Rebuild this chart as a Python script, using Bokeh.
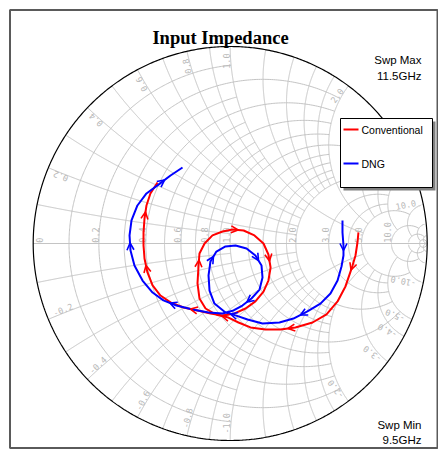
import numpy as np
from bokeh.plotting import figure
from bokeh.models import ColumnDataSource, Arrow, OpenHead, Range1d
from bokeh.embed import file_html
from bokeh.resources import INLINE
from bokeh.core.properties import value

# ---------------- data: reflection coefficient traces (Re, Im) ----------------
conv_re = [0.651, 0.646, 0.636, 0.621, 0.606, 0.585, 0.545, 0.489, 0.418, 0.331,
           0.255, 0.179, 0.103, 0.042, -0.009, -0.075, -0.125, -0.156, -0.166, -0.161,
           -0.156, -0.130, -0.090, -0.039, 0.012, 0.068, 0.123, 0.169, 0.194, 0.205,
           0.194, 0.169, 0.128, 0.078, 0.022, -0.039, -0.100, -0.166, -0.237, -0.303,
           -0.354, -0.394, -0.420, -0.435, -0.440, -0.440, -0.435, -0.425, -0.405, -0.369]
conv_im = [0.056, 0.005, -0.061, -0.112, -0.157, -0.218, -0.294, -0.360, -0.401, -0.426,
           -0.437, -0.437, -0.426, -0.401, -0.376, -0.360, -0.330, -0.279, -0.203, -0.117,
           -0.051, 0.000, 0.041, 0.061, 0.071, 0.066, 0.041, 0.000, -0.056, -0.122,
           -0.188, -0.244, -0.294, -0.330, -0.355, -0.365, -0.355, -0.340, -0.325, -0.299,
           -0.264, -0.213, -0.147, -0.076, -0.010, 0.056, 0.127, 0.193, 0.254, 0.310]
dng_re = [0.570, 0.570, 0.575, 0.575, 0.565, 0.545, 0.509, 0.458, 0.392, 0.321,
          0.250, 0.164, 0.088, 0.027, -0.024, -0.080, -0.105, -0.110, -0.100, -0.070,
          -0.024, 0.027, 0.083, 0.128, 0.159, 0.164, 0.149, 0.108, 0.062, 0.017,
          -0.039, -0.110, -0.191, -0.273, -0.339, -0.394, -0.445, -0.486, -0.506, -0.511,
          -0.501, -0.471, -0.425, -0.364, -0.303, -0.242]
dng_im = [0.117, 0.056, -0.010, -0.061, -0.117, -0.188, -0.254, -0.305, -0.345, -0.381,
          -0.401, -0.406, -0.386, -0.365, -0.350, -0.305, -0.239, -0.162, -0.091, -0.041,
          -0.015, -0.010, -0.025, -0.061, -0.112, -0.173, -0.234, -0.279, -0.315, -0.340,
          -0.355, -0.350, -0.335, -0.315, -0.289, -0.249, -0.188, -0.112, -0.036, 0.041,
          0.117, 0.193, 0.254, 0.299, 0.345, 0.386]
conv_arrows = [3, 9, 14, 19, 24, 28, 37, 42, 46]
dng_arrows = [2, 8, 13, 18, 23, 27, 33, 38, 43]
series_names = ["Conventional", "DNG"]

# Smith grid values and their extents
r_grid = [0.1, 0.2, 0.3, 0.4, 0.5, 0.6, 0.7, 0.8, 0.9, 1.0, 1.2, 1.4, 1.6, 1.8, 2.0,
          3.0, 4.0, 5.0, 10.0, 20.0, 50.0]
r_limit = [1, 2, 1, 2, 1, 2, 1, 2, 1, 5, 2, 2, 2, 2, 5, 5, 5, 10, 20, 50, np.inf]
x_grid = r_grid
x_limit = r_limit
r_labels = [0, 0.2, 0.4, 0.6, 0.8, 1.0, 2.0, 3.0, 5.0, 10.0]
x_labels = [0.2, 0.4, 0.6, 0.8, 1.0, 2.0, 3.0, 4.0, 5.0, 10.0]

# ---------------- layout ----------------
W, H = 438, 449
OFF = 0
CX, CY, RAD = 229.7, 243.0, 197.0   # page pixels


def P(px, py):
    return (px - CX) / RAD, (CY - py) / RAD


p = figure(width=W, height=H, output_backend="svg", toolbar_location=None,
           x_axis_type=None, y_axis_type=None, min_border=0,
           x_range=Range1d((OFF - CX) / RAD, (OFF + W - CX) / RAD),
           y_range=Range1d((CY - (OFF + H)) / RAD, (CY - OFF) / RAD))
p.grid.visible = False
p.outline_line_color = None
p.background_fill_color = "white"
p.border_fill_color = "white"

# chart frame
fl, ft = P(9.5, 9.5)
fr, fb = P(437, 447.5)
p.quad(left=fl, right=fr, top=ft, bottom=fb, fill_color="white",
       line_color="#5a5a5a", line_width=2)

GRID = "#c4c4c4"


def gamma(z):
    return (z - 1) / (z + 1)


gx, gy = [], []
for r, lim in zip(r_grid, r_limit):
    t = np.linspace(-np.arctan(lim), np.arctan(lim), 400)
    g = gamma(r + 1j * np.tan(t))
    gx.append(g.real.tolist()); gy.append(g.imag.tolist())
for xv, lim in zip(x_grid, x_limit):
    s = np.linspace(0, np.arctan(lim), 400)
    for sg in (1, -1):
        g = gamma(np.tan(s) + 1j * sg * xv)
        gx.append(g.real.tolist()); gy.append(g.imag.tolist())
p.multi_line(gx, gy, line_color=GRID, line_width=1)
p.line([-1, 1], [0, 0], line_color=GRID, line_width=1)

th = np.linspace(0, 2 * np.pi, 721)
p.line(np.cos(th), np.sin(th), line_color="black", line_width=1.2)

# ---------------- grid labels ----------------
LBL = dict(text_font=value("DejaVu Sans Mono"), text_font_size="8.5px", text_color="#b8b8b8")
rl_x = [gamma(complex(v, 0)).real for v in r_labels[1:]]
p.text(x=rl_x, y=[0.004] * len(rl_x), text=[f"{v:.1f}" for v in r_labels[1:]],
       angle=np.pi / 2, text_align="left", text_baseline="bottom", **LBL)
p.text(x=[-1 + 3 / RAD], y=[0.004], text=["0"], angle=np.pi / 2,
       text_align="left", text_baseline="top", **LBL)

inset = 1 - 7 / RAD
pos_th = [np.angle(gamma(1j * v)) for v in x_labels]
p.text(x=[inset * np.cos(a) for a in pos_th], y=[inset * np.sin(a) for a in pos_th],
       text=[f"{v:.1f}" for v in x_labels], angle=pos_th,
       text_align="right", text_baseline="bottom", **LBL)
neg_th = [np.angle(gamma(-1j * v)) for v in x_labels]
p.text(x=[inset * np.cos(a) for a in neg_th], y=[inset * np.sin(a) for a in neg_th],
       text=[f"-{v:.1f}" for v in x_labels], angle=[a + np.pi for a in neg_th],
       text_align="left", text_baseline="bottom", **LBL)

# ---------------- traces ----------------
def add_trace(re, im, idx, color):
    p.line(re, im, line_color=color, line_width=2)
    xs, ys, xe, ye = [], [], [], []
    for i in idx:
        mx, my = (re[i] + re[i + 1]) / 2, (im[i] + im[i + 1]) / 2
        dx, dy = re[i + 1] - re[i], im[i + 1] - im[i]
        n = np.hypot(dx, dy)
        xs.append(mx - 0.01 * dx / n); ys.append(my - 0.01 * dy / n)
        xe.append(mx); ye.append(my)
    src = ColumnDataSource(dict(xs=xs, ys=ys, xe=xe, ye=ye))
    p.add_layout(Arrow(end=OpenHead(size=7, line_color=color, line_width=1.6),
                       x_start="xs", y_start="ys", x_end="xe", y_end="ye",
                       line_alpha=0, source=src))


add_trace(conv_re, conv_im, conv_arrows, "#ff0000")
add_trace(dng_re, dng_im, dng_arrows, "#0000ff")

# ---------------- legend (drawn) ----------------
l0, t0 = P(340, 118)
r0, b0 = P(432, 187)
s = 3 / RAD
p.quad(left=l0 + s, right=r0 + s, top=t0 - s, bottom=b0 - s, fill_color="#808080", line_color=None)
p.quad(left=l0, right=r0, top=t0, bottom=b0, fill_color="white", line_color="black", line_width=1)
for name, col, py in zip(series_names, ["#ff0000", "#0000ff"], [129, 163]):
    a0, yy = P(343, py)
    a1, _ = P(358, py)
    p.line([a0, a1], [yy, yy], line_color=col, line_width=2)
    tx, _ = P(361, py)
    p.text(x=[tx], y=[yy], text=[name], text_align="left", text_baseline="middle",
           text_font=value("Liberation Sans"), text_font_size="10.5px", text_color="black")

# ---------------- titles ----------------
tx, ty = P(220, 37)
p.text(x=[tx], y=[ty], text=["Input Impedance"], text_align="center", text_baseline="alphabetic",
       text_font=value("Liberation Serif"), text_font_style="bold", text_font_size="18.5px",
       text_color="black")
for txt, py in [("Swp Max", 59), ("11.5GHz", 75), ("Swp Min", 424), ("9.5GHz", 439)]:
    x_, y_ = P(421, py)
    p.text(x=[x_], y=[y_], text=[txt], text_align="right", text_baseline="alphabetic",
           text_font=value("Liberation Sans"), text_font_size="11.5px", text_color="black")

open("out.html", "w").write(file_html(p, INLINE))
